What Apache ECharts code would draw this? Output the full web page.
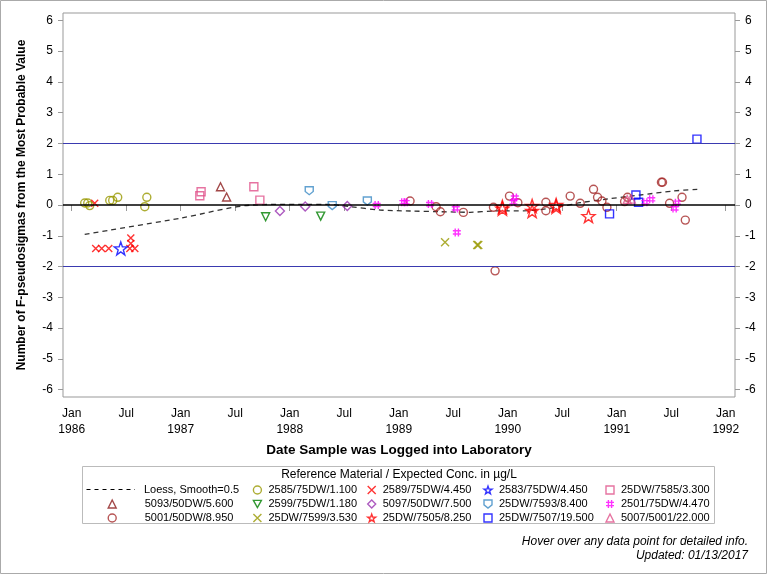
<!DOCTYPE html>
<html><head><meta charset="utf-8">
<script src="https://cdn.jsdelivr.net/npm/echarts@6/dist/echarts.min.js"></script>
<style>html,body{margin:0;padding:0;background:#fff}#c{width:768px;height:576px}</style>
</head><body><div id="c"></div>
<script>
// ---- tick values ----
const xTicks = [1986, 1986.5, 1987, 1987.5, 1988, 1988.5, 1989, 1989.5, 1990, 1990.5, 1991, 1991.5, 1992];
const yTicks = [-6, -5, -4, -3, -2, -1, 0, 1, 2, 3, 4, 5, 6];
const refLines = [0, 2, -2];

// ---- data: [decimal year, F-pseudosigmas] ----
const loess = [[1986.119,-0.953],[1986.992,-0.433],[1987.662,0.0],[1988.094,0.023],[1988.342,0.023],[1988.554,-0.055],
  [1988.829,-0.163],[1989.104,-0.195],[1989.379,-0.218],[1989.655,-0.237],[1989.866,-0.195],[1990.178,-0.185],
  [1990.481,-0.055],[1990.665,0.075],[1990.913,0.195],[1991.216,0.325],[1991.521,0.455],[1991.739,0.51]];
const s5093 = [[1987.365,0.595],[1987.421,0.26]];
const s5001 = [[1989.104,0.13],[1989.343,-0.055],[1989.382,-0.22],[1989.593,-0.24],[1989.869,-0.075],[1990.016,0.29],
  [1990.093,0.075],[1989.884,-2.14],[1990.350,0.09],[1990.350,-0.185],[1990.573,0.29],[1990.665,0.055],[1990.787,0.51],
  [1990.824,0.25],[1990.864,0.13],[1990.910,-0.075],[1991.072,0.11],[1991.099,0.25],[1991.41,0.74],[1991.42,0.74],
  [1991.485,0.055],[1991.599,0.25],[1991.629,-0.49]];
const s2585 = [[1986.119,0.065],[1986.147,0.065],[1986.165,-0.02],[1986.349,0.15],[1986.376,0.15],[1986.422,0.25],
  [1986.689,0.25],[1986.670,-0.055]];
const s2599 = [[1987.779,-0.38],[1988.284,-0.36]];
const s7599 = [[1989.425,-1.21],[1989.72,-1.30],[1989.73,-1.30]];
const s2589 = [[1986.211,0.055],[1986.220,-1.41],[1986.275,-1.41],[1986.340,-1.41],[1986.533,-1.41],[1986.579,-1.41],
  [1986.542,-1.07],[1986.542,-1.25]];
const s5097 = [[1987.910,-0.195],[1988.142,-0.05],[1988.528,-0.03]];
const s7505 = [[1989.951,-0.06],[1989.951,-0.12],[1990.224,-0.03],[1990.224,-0.195],[1990.444,0.0],[1990.444,-0.06],
  [1990.741,-0.36]];
const s2583 = [[1986.450,-1.41]];
const s7593 = [[1988.179,0.465],[1988.390,-0.02],[1988.712,0.13]];
const s7507 = [[1990.934,-0.29],[1991.176,0.325],[1991.200,0.09],[1991.736,2.14]];
const s7585 = [[1987.187,0.43],[1987.175,0.30],[1987.671,0.595],[1987.726,0.16]];
const s2501 = [[1988.798,0.0],[1989.042,0.09],[1989.064,0.09],[1989.287,0.03],[1989.523,-0.11],[1989.533,-0.89],
  [1990.065,0.24],[1990.052,0.09],[1991.262,0.09],[1991.317,0.185],[1991.531,-0.11],[1991.553,0.075]];
const s5007 = [[1991.096,0.18],[1991.133,0.19]];

// ---- symbols ----
const SYM = {
  x: 'path://M0,0L10,10M0,10L10,0',
  hash: 'path://M3,0L3,10M7,0L7,10M0,3L10,3M0,7L10,7',
  down: 'path://M0,0L10,0L5,9Z',
  shield: 'path://M0,0L10,0L10,6L5,10L0,6Z',
  star: 'path://M10,0L12.35,6.76L19.51,6.91L13.8,11.24L15.88,18.09L10,14L4.12,18.09L6.2,11.24L0.49,6.91L7.65,6.76Z'
};

const scatterDefs = [
  ['5093/50DW/5.600', s5093, 'triangle', '#8b1a1a', 8],
  ['5001/50DW/8.950', s5001, 'circle', '#a52a2a', 8],
  ['2585/75DW/1.100', s2585, 'circle', '#999900', 8],
  ['2599/75DW/1.180', s2599, SYM.down, '#008000', 8],
  ['25DW/7599/3.530', s7599, SYM.x, '#999900', 8],
  ['2589/75DW/4.450', s2589, SYM.x, '#ff0000', 7],
  ['5097/50DW/7.500', s5097, 'diamond', '#9932b0', 9],
  ['25DW/7505/8.250', s7505, SYM.star, '#ff0000', 13],
  ['2583/75DW/4.450', s2583, SYM.star, '#0000ff', 13],
  ['25DW/7593/8.400', s7593, SYM.shield, '#3a8ac4', 8],
  ['25DW/7507/19.500', s7507, 'rect', '#0000ff', 8],
  ['25DW/7585/3.300', s7585, 'rect', '#e0508a', 8],
  ['2501/75DW/4.470', s2501, SYM.hash, '#ff00ff', 8],
  ['5007/5001/22.000', s5007, 'triangle', '#e0508a', 8]
];

const FONT = "'Liberation Sans', Arial, sans-serif";

const series = [{
  name: 'Loess, Smooth=0.5', type: 'line', data: loess, symbol: 'none', smooth: 0.3,
  lineStyle: { color: '#333', width: 1.3, type: [5, 4] }, itemStyle: { color: '#333' },
  z: 3,
  markLine: {
    silent: true, symbol: 'none', label: { show: false }, animation: false,
    data: refLines.map(v => ({ yAxis: v, lineStyle: { color: v === 0 ? '#000' : '#3a3ab0', width: v === 0 ? 1.5 : 1, type: 'solid' } }))
  }
}].concat(scatterDefs.map(d => ({
  name: d[0], type: 'scatter', data: d[1], symbol: d[2], symbolSize: d[4], z: 4,
  itemStyle: { color: 'rgba(0,0,0,0)', borderColor: d[3], borderWidth: 1.4 },
  emphasis: { disabled: true }
})));

const colNames = [
  ['5093/50DW/5.600', '5001/50DW/8.950'],
  ['2585/75DW/1.100', '2599/75DW/1.180', '25DW/7599/3.530'],
  ['2589/75DW/4.450', '5097/50DW/7.500', '25DW/7505/8.250'],
  ['2583/75DW/4.450', '25DW/7593/8.400', '25DW/7507/19.500'],
  ['25DW/7585/3.300', '2501/75DW/4.470', '5007/5001/22.000']
];
const colLeft = [107.5, 252.7, 367, 483.3, 605.3];
const colTop = [497, 483, 483, 483, 483];
const legends = colNames.map((names, i) => ({
  data: names, orient: 'vertical', left: colLeft[i], top: colTop[i], padding: 0, itemGap: 0,
  itemWidth: 8, itemHeight: 8, selectedMode: false, symbolKeepAspect: true,
  itemStyle: { borderWidth: 1.4 },
  textStyle: { fontSize: 11, fontFamily: FONT, color: '#000', lineHeight: 14, padding: i === 0 ? [0, 0, 0, 23.5] : [0, 0, 0, 2] }
}));

const yAxisBase = {
  type: 'value', min: -6.24, max: 6.24,
  axisLine: { show: false }, splitLine: { show: false },
  axisTick: { show: true, customValues: yTicks, length: 5, lineStyle: { color: '#999' } },
  axisLabel: { customValues: yTicks, fontSize: 12, fontFamily: FONT, color: '#000', margin: 10 }
};

const chart = echarts.init(document.getElementById('c'), null, { renderer: 'canvas' });
chart.setOption({
  animation: false,
  backgroundColor: '#fff',
  grid: { left: 63, right: 33, top: 13, bottom: 179, show: true, borderColor: '#999', borderWidth: 1, backgroundColor: 'transparent' },
  xAxis: {
    type: 'value', min: 1985.92, max: 1992.085,
    axisLine: { show: false }, splitLine: { show: false },
    axisTick: { show: true, customValues: xTicks, length: 6, lineStyle: { color: '#999' } },
    axisLabel: {
      customValues: xTicks, fontSize: 12, fontFamily: FONT, color: '#000', margin: 9, lineHeight: 16,
      formatter: v => (Math.abs(v - Math.round(v)) < 0.01 ? 'Jan\n' + Math.round(v) : 'Jul')
    },
    name: 'Date Sample was Logged into Laboratory', nameLocation: 'middle', nameGap: 46,
    nameTextStyle: { fontSize: 13.5, fontWeight: 'bold', fontFamily: FONT, color: '#000' }
  },
  yAxis: [
    Object.assign({}, yAxisBase, {
      position: 'left',
      name: 'Number of F-pseudosigmas from the Most Probable Value', nameLocation: 'middle', nameGap: 35,
      nameTextStyle: { fontSize: 12, fontWeight: 'bold', fontFamily: FONT, color: '#000' }
    }),
    Object.assign({}, yAxisBase, { position: 'right' })
  ],
  legend: legends,
  tooltip: { show: false },
  series: series,
  graphic: [
    { type: 'rect', shape: { x: 0.5, y: 0.5, width: 766, height: 573 }, style: { fill: 'none', stroke: '#aaa', lineWidth: 1 }, silent: true },
    { type: 'rect', shape: { x: 82.5, y: 466.5, width: 632, height: 57 }, style: { fill: 'none', stroke: '#bbb', lineWidth: 1 }, silent: true },
    { type: 'text', x: 399, y: 475, style: { text: 'Reference Material / Expected Conc. in µg/L', font: '12px ' + FONT, fill: '#000', align: 'center', verticalAlign: 'middle' } },
    { type: 'line', shape: { x1: 86.5, y1: 489.5, x2: 135, y2: 489.5 }, style: { stroke: '#000', lineWidth: 1, lineDash: [4, 4] }, silent: true },
    { type: 'text', x: 144, y: 490, style: { text: 'Loess, Smooth=0.5', font: '11px ' + FONT, fill: '#000', align: 'left', verticalAlign: 'middle' } },
    { type: 'text', x: 748, y: 541.5, style: { text: 'Hover over any data point for detailed info.', font: 'italic 12px ' + FONT, fill: '#000', align: 'right', verticalAlign: 'middle' } },
    { type: 'text', x: 748, y: 555.5, style: { text: 'Updated: 01/13/2017', font: 'italic 12px ' + FONT, fill: '#000', align: 'right', verticalAlign: 'middle' } }
  ]
});
</script></body></html>
